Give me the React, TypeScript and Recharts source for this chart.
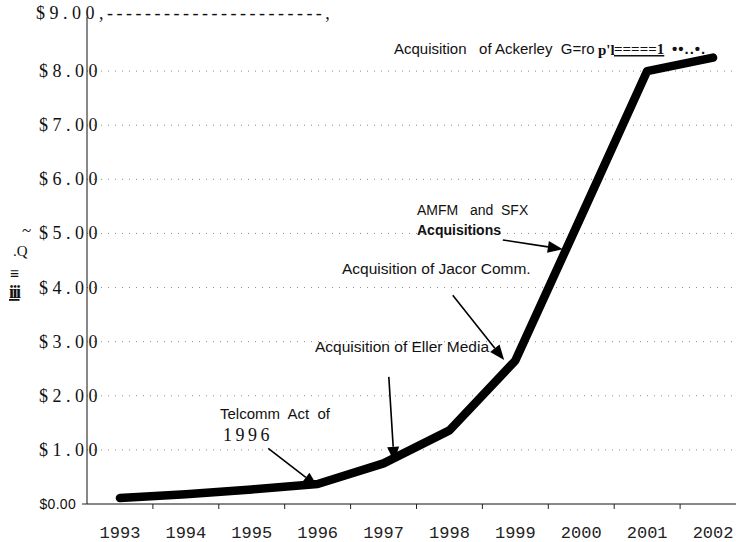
import React from 'react';
import { LineChart, Line, XAxis, YAxis, CartesianGrid, ReferenceLine } from 'recharts';

// revenue in $ billions
const years = [1993, 1994, 1995, 1996, 1997, 1998, 1999, 2000, 2001, 2002];
const revenue = [0.11, 0.18, 0.27, 0.37, 0.75, 1.36, 2.65, 5.32, 8.0, 8.25];
const yTicks = [0, 1, 2, 3, 4, 5, 6, 7, 8, 9];
const gridValues = [1, 2, 3, 4, 5, 6, 7, 8];
// year labels plus the band boundaries between them (tick marks)
const xTicks = [1993, 1993.5, 1994, 1994.5, 1995, 1995.5, 1996, 1996.5, 1997, 1997.5, 1998, 1998.5, 1999, 1999.5, 2000, 2000.5, 2001, 2001.5, 2002];

// annotation arrows: [tailYear, tailValue, tipYear, tipValue]
const arrows = [
  [1995.25, 1.03, 1996.0, 0.32],
  [1997.08, 2.35, 1997.16, 0.78],
  [1998.05, 3.86, 1998.83, 2.66],
  [1998.81, 4.88, 1999.72, 4.71],
];

const data = years.map((year, i) => ({ year, value: revenue[i] }));

const serif = "'Times New Roman', 'Liberation Serif', Times, 'DejaVu Serif', serif";
const sans = "'Liberation Sans', Arial, sans-serif";
const mono = "'Liberation Mono', 'DejaVu Sans Mono', monospace";

const Arrow = (props: any) => {
  const { x1, y1, x2, y2 } = props;
  const dx = x2 - x1;
  const dy = y2 - y1;
  const len = Math.sqrt(dx * dx + dy * dy) || 1;
  const ux = dx / len;
  const uy = dy / len;
  const head = 15;
  const half = 6;
  const bx = x2 - ux * head;
  const by = y2 - uy * head;
  return (
    <g>
      <line x1={x1} y1={y1} x2={bx} y2={by} stroke="#000" strokeWidth={1.6} />
      <polygon
        points={`${x2},${y2} ${bx - uy * half},${by + ux * half} ${bx + uy * half},${by - ux * half}`}
        fill="#000"
      />
    </g>
  );
};

const XTick = ({ x, y, payload }: any) => {
  if (Number.isInteger(payload.value)) {
    return (
      <text x={x} y={y + 34} textAnchor="middle" fontFamily={mono} fontSize={17} fill="#222">
        {payload.value}
      </text>
    );
  }
  return <line x1={x} x2={x} y1={y} y2={y + 5} stroke="#222" strokeWidth={1} />;
};

const YTick = ({ x, y, payload }: any) => {
  const v = payload.value;
  if (v === 0) {
    return (
      <g>
        <text x={x - 11} y={y + 5} textAnchor="end" fontFamily={sans} fontSize={14} letterSpacing={0.3} fill="#111">
          $0.00
        </text>
        <line x1={x - 5} x2={x} y1={y} y2={y} stroke="#222" />
      </g>
    );
  }
  if (v === 9) {
    return (
      <text x={x - 51} y={y + 2} fontFamily={serif} fontSize={18} fill="#111">
        <tspan letterSpacing={4.5}>$9.00</tspan>
        <tspan letterSpacing={3.5}>,-----------------------,</tspan>
      </text>
    );
  }
  return (
    <text x={x + 15} y={y + 6} textAnchor="end" fontFamily={serif} fontSize={18} letterSpacing={4.5} fill="#111">
      {`$${v}.00`}
    </text>
  );
};

export default function App() {
  return (
    <div style={{ position: 'absolute', left: 0, top: 0, width: 736, height: 542, overflow: 'hidden', background: '#fff' }}>
      <LineChart width={760} height={542} data={data} margin={{ top: 17, right: 14, bottom: 0, left: 0 }}>
        <CartesianGrid vertical={false} horizontalValues={gridValues} stroke="#8a8a8a" strokeDasharray="1 6" />
        <XAxis
          dataKey="year"
          type="number"
          domain={[1992.5, 2002.5]}
          ticks={xTicks}
          interval={0}
          height={38}
          tickSize={0}
          tickMargin={0}
          tickLine={false}
          axisLine={{ stroke: '#111', strokeWidth: 1 }}
          tick={<XTick />}
        />
        <YAxis
          type="number"
          domain={[0, 9]}
          ticks={yTicks}
          interval={0}
          width={87}
          tickSize={0}
          tickMargin={0}
          tickLine={false}
          axisLine={{ stroke: '#111', strokeWidth: 1 }}
          tick={<YTick />}
        />
        <Line
          type="linear"
          dataKey="value"
          stroke="#000"
          strokeWidth={8.5}
          strokeLinecap="round"
          strokeLinejoin="round"
          dot={false}
          isAnimationActive={false}
        />
        {arrows.map((a, i) => (
          <ReferenceLine
            key={i}
            segment={[{ x: a[0], y: a[1] }, { x: a[2], y: a[3] }]}
            ifOverflow="visible"
            shape={(p: any) => <Arrow {...p} />}
          />
        ))}
      </LineChart>
      <svg width={736} height={542} style={{ position: 'absolute', left: 0, top: 0, pointerEvents: 'none' }}>
        <g fill="#111" fontFamily={sans}>
          <text xmlSpace="preserve" x={394} y={54} fontSize={15}>Acquisition   of Ackerley  G=ro</text>
          <text x={598} y={55} fontSize={15} fontFamily={serif} fontWeight="bold">p'l</text>
          <text x={614} y={54} fontSize={15} fontFamily={serif} fontWeight="bold" textDecoration="underline">=====1</text>
          <text x={672} y={54} fontSize={15} fontWeight="bold" letterSpacing={1}>••..•.</text>
          <text xmlSpace="preserve" x={417} y={215} fontSize={14}>AMFM   and  SFX</text>
          <text x={417} y={235} fontSize={14} fontWeight="bold">Acquisitions</text>
          <text x={342} y={274} fontSize={15.5}>Acquisition of Jacor Comm.</text>
          <text x={315} y={352} fontSize={15.5}>Acquisition of Eller Media</text>
          <text xmlSpace="preserve" x={220} y={419} fontSize={15}>Telcomm  Act  of</text>
          <text x={223} y={441} fontSize={18} fontFamily={serif} letterSpacing={3.5}>1996</text>
        </g>
        <g fill="#111" fontFamily={serif}>
          <text x={22} y={236} fontSize={17}>~</text>
          <text x={13} y={256} fontSize={15}>.Q</text>
          <text x={10} y={279} fontSize={16} fontWeight="bold">≡</text>
          <text x={9} y={298} fontSize={18} fontWeight="bold" letterSpacing={-1.5} textDecoration="underline">iii</text>
        </g>
      </svg>
    </div>
  );
}
